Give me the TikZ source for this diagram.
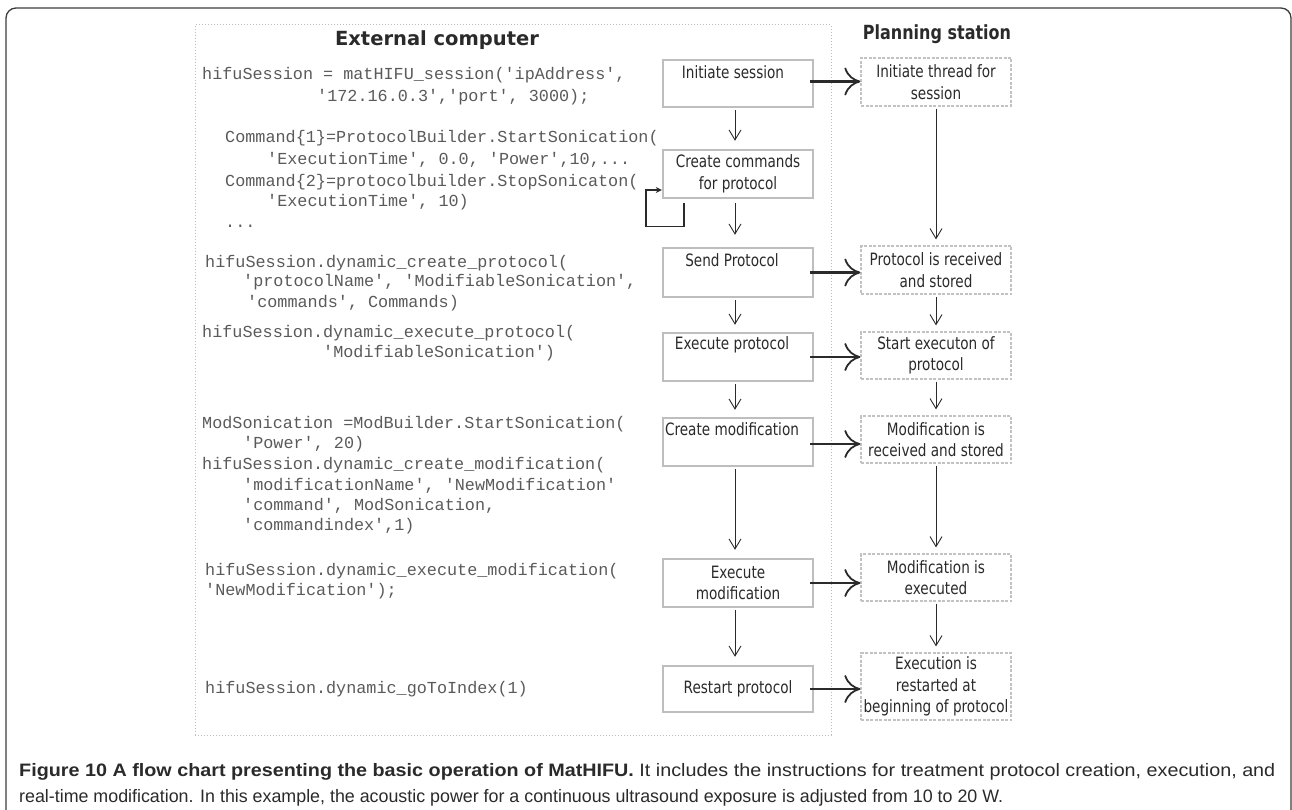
\documentclass[tikz,border=0pt]{standalone}
\usepackage{fontspec}
\usepackage{graphicx}
\setmonofont{Liberation Mono}
\newfontfamily\boxfont[FakeStretch=0.8]{DejaVu Sans}
\newfontfamily\hdrfont{DejaVu Sans}
\newfontfamily\hdrfontc[FakeStretch=0.82]{DejaVu Sans}
\newfontfamily\capfont[FakeStretch=0.92]{Liberation Sans}
\usetikzlibrary{arrows.meta}
\definecolor{framec}{HTML}{3C3C3C}
\definecolor{inkc}{HTML}{2A2A2A}
\definecolor{codec}{HTML}{5A5A5A}
\definecolor{lboxc}{HTML}{BEBEBE}
\definecolor{rboxc}{HTML}{C2C2C2}
\definecolor{extc}{HTML}{BBBBBB}
\tikzset{
  lbox/.style={draw=lboxc, line width=2.4pt, inner sep=0pt, minimum width=150pt,
    text=inkc, align=center, font=\boxfont\fontsize{17}{21.5}\selectfont},
  rbox/.style={draw=rboxc, line width=1.2pt, dash pattern=on 3pt off 1.5pt, inner sep=0pt,
    minimum width=150pt, text=inkc, align=center, font=\boxfont\fontsize{17}{21.5}\selectfont},
  btext/.style={inner sep=0pt, text=inkc, font=\boxfont\fontsize{17}{21.5}\selectfont},
  code/.style={inner sep=0pt, anchor=base west, text=codec, font=\ttfamily\fontsize{16.8}{20}\selectfont},
  hdr/.style={inner sep=0pt, anchor=base, text=inkc},
  harrow/.style={draw=inkc, line width=2.2pt, -{Computer Modern Rightarrow[length=16pt,width=28pt,line width=1.8pt]}},
  varrow/.style={draw=inkc, line width=1pt, -{Straight Barb[length=10pt,width=12pt,line width=0.9pt]}},
  looparrow/.style={draw=inkc, line width=1.2pt, -{Stealth[length=6pt,width=6pt]}},
}
\begin{document}
\begin{tikzpicture}[x=1pt, y=-1pt]
\useasboundingbox (0,0) rectangle (1292,810);
% outer frame
\draw[framec, line width=1.3pt, rounded corners=10pt] (6,810) -- (6,8) -- (1291,8) -- (1291,810);
% external computer region
\node[draw=extc, line width=1pt, dotted, minimum width=636pt, minimum height=710pt, inner sep=0pt] (ext) at (513,380) {};
\node[hdr, font=\hdrfont\bfseries\fontsize{19.5}{22}\selectfont] (h1) at (437,46) {External computer};
\node[hdr, font=\hdrfontc\bfseries\fontsize{19.5}{22}\selectfont] (h2) at (937,40) {Planning station};
% left boxes
\node[lbox, minimum height=47pt] (L1) at (738,83.5) {};
\node[btext] (t1) at (733,72) {Initiate session};
\node[lbox, minimum height=48pt] (L2) at (738,174) {Create commands\\for protocol};
\node[lbox, minimum height=49pt] (L3) at (738,272.5) {};
\node[btext] (t3) at (732,260) {Send Protocol};
\node[lbox, minimum height=48pt] (L4) at (738,357) {};
\node[btext] (t4) at (732,345) {Execute protocol};
\node[lbox, minimum height=48pt] (L5) at (738,442) {};
\node[btext] (t5) at (732,429) {Create modification};
\node[lbox, minimum height=48pt] (L6) at (738,583) {Execute\\modification};
\node[lbox, minimum height=46pt] (L7) at (738,689) {Restart protocol};
% right boxes
\node[rbox, minimum height=48pt] (R1) at (936,82) {Initiate thread for\\session};
\node[rbox, minimum height=48pt] (R2) at (936,270) {Protocol is received\\and stored};
\node[rbox, minimum height=47pt] (R3) at (936,355.5) {Start executon of\\protocol};
\node[rbox, minimum height=47pt] (R4) at (936,439.5) {Modification is\\received and stored};
\node[rbox, minimum height=47pt] (R5) at (936,577.5) {Modification is\\executed};
\node[rbox, minimum height=67pt] (R6) at (936,686.5) {Execution is\\restarted at\\beginning of protocol};
% code
\node[code] (c1) at (202,80) {hifuSession = matHIFU\_session('ipAddress',};
\node[code] (c2) at (317,102) {'172.16.0.3','port', 3000);};
\node[code] (c3) at (225,143) {Command\{1\}=ProtocolBuilder.StartSonication(};
\node[code] (c4) at (267,165) {'ExecutionTime', 0.0, 'Power',10,...};
\node[code] (c5) at (225,187) {Command\{2\}=protocolbuilder.StopSonicaton(};
\node[code] (c6) at (267,207) {'ExecutionTime', 10)};
\node[code] (c7) at (225,228) {...};
\node[code] (c8) at (205,267) {hifuSession.dynamic\_create\_protocol(};
\node[code] (c9) at (243,287) {'protocolName', 'ModifiableSonication',};
\node[code] (c10) at (247,307) {'commands', Commands)};
\node[code] (c11) at (202,337) {hifuSession.dynamic\_execute\_protocol(};
\node[code] (c12) at (323,357) {'ModifiableSonication')};
\node[code] (c13) at (202,428) {ModSonication =ModBuilder.StartSonication(};
\node[code] (c14) at (243,448) {'Power', 20)};
\node[code] (c15) at (202,469) {hifuSession.dynamic\_create\_modification(};
\node[code] (c16) at (243,490) {'modificationName', 'NewModification'};
\node[code] (c17) at (243,510) {'command', ModSonication,};
\node[code] (c18) at (243,530) {'commandindex',1)};
\node[code] (c19) at (205,575) {hifuSession.dynamic\_execute\_modification(};
\node[code] (c20) at (205,595) {'NewModification');};
\node[code] (c21) at (205,693) {hifuSession.dynamic\_goToIndex(1)};
% vertical arrows left
\draw[varrow, shorten >=8pt, shorten <=2pt] ([xshift=-3pt]L1.south) -- ([xshift=-3pt]L2.north);
\draw[varrow, shorten >=12pt, shorten <=4pt] ([xshift=-3pt]L2.south) -- ([xshift=-3pt]L3.north);
\draw[varrow, shorten >=7pt, shorten <=2pt] ([xshift=-3pt]L3.south) -- ([xshift=-3pt]L4.north);
\draw[varrow, shorten >=7pt, shorten <=2pt] ([xshift=-3pt]L4.south) -- ([xshift=-3pt]L5.north);
\draw[varrow, shorten >=8pt, shorten <=2pt] ([xshift=-3pt]L5.south) -- ([xshift=-3pt]L6.north);
\draw[varrow, shorten >=8pt, shorten <=2pt] ([xshift=-3pt]L6.south) -- ([xshift=-3pt]L7.north);
% vertical arrows right
\draw[varrow, shorten >=6pt, shorten <=2pt] (R1.south) -- (R2.north);
\draw[varrow, shorten >=6pt, shorten <=2pt] (R2.south) -- (R3.north);
\draw[varrow, shorten >=6pt, shorten <=2pt] (R3.south) -- (R4.north);
\draw[varrow, shorten >=6pt, shorten <=2pt] (R4.south) -- (R5.north);
\draw[varrow, shorten >=6pt, shorten <=2pt] (R5.south) -- (R6.north);
% horizontal arrows
\draw[harrow] ([xshift=-4pt,yshift=2pt]L1.east) -- ([yshift=2pt]L1.east -| R1.west);
\draw[harrow] ([xshift=-4pt]L3.east) -- (L3.east -| R2.west);
\draw[harrow] ([xshift=-4pt]L4.east) -- (L4.east -| R3.west);
\draw[harrow] ([xshift=-4pt,yshift=-2pt]L5.east) -- ([yshift=-2pt]L5.east -| R4.west);
\draw[harrow] ([xshift=-4pt]L6.east) -- (L6.east -| R5.west);
\draw[harrow] ([xshift=-4pt]L7.east) -- (L7.east -| R6.west);
% self loop
\coordinate (lpA) at (646,200);
\draw[looparrow] ([xshift=-54pt,yshift=-4pt]L2.south) -- ++(0,23) -| (lpA) |- ([yshift=-16pt]L2.west);
% caption
\node[anchor=base west, inner sep=0pt, text=inkc] (cap1) at (19,776)
  {\capfont\fontsize{18}{20}\selectfont\resizebox{1256pt}{\height}{\textbf{Figure 10 A flow chart presenting the basic operation of MatHIFU.} It includes the instructions for treatment protocol creation, execution, and}};
\node[anchor=base west, inner sep=0pt, text=inkc] (cap2) at (19,802)
  {\capfont\fontsize{18}{20}\selectfont\resizebox{984pt}{\height}{real-time modification. In this example, the acoustic power for a continuous ultrasound exposure is adjusted from 10 to 20 W.}};
\end{tikzpicture}
\end{document}
